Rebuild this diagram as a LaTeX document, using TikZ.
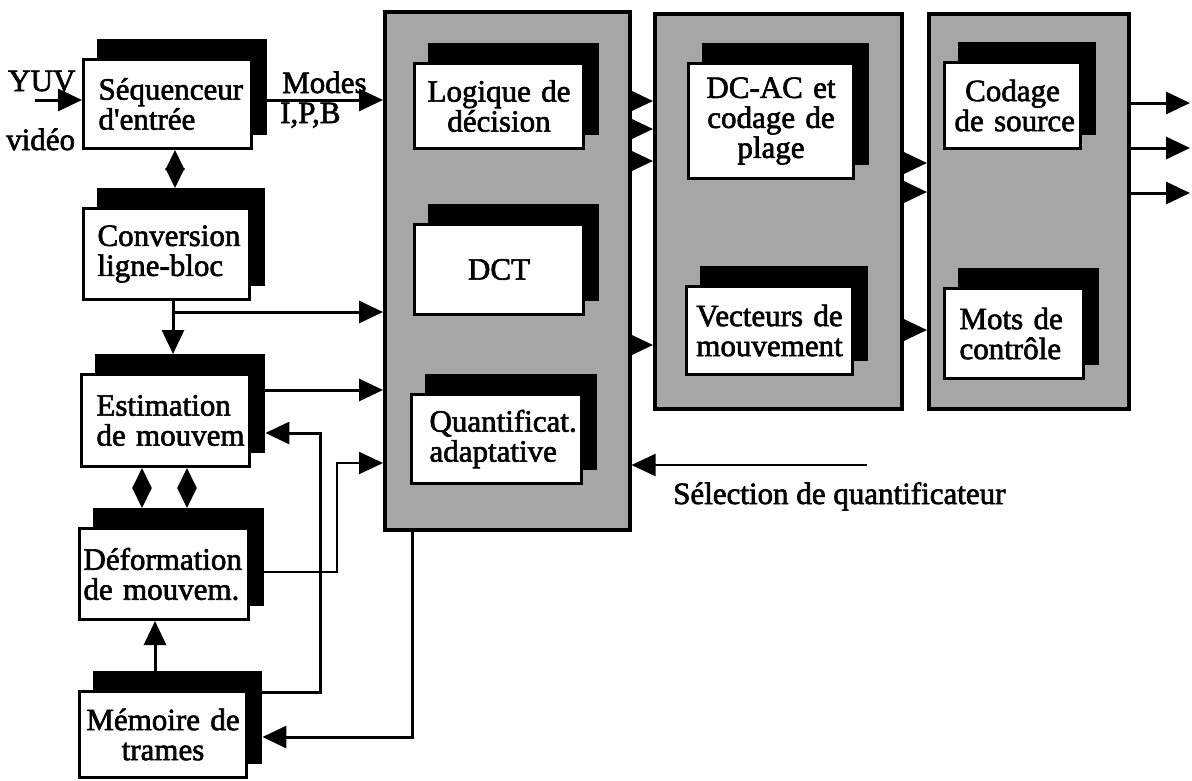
\documentclass[tikz,border=0pt]{standalone}
\usepackage{fontspec}
\setmainfont{Liberation Serif}
\newfontfamily\scanfont{Liberation Serif}[FakeBold=2]
\usetikzlibrary{arrows.meta,calc}
\hyphenpenalty=10000
\exhyphenpenalty=10000

\tikzset{
  txtfont/.style={font=\scanfont\fontsize{31}{30}\selectfont},
  lbl/.style={txtfont, inner sep=0pt},
  panel/.style={draw=black, line width=3.5pt, fill=black!35, inner sep=0pt, anchor=north west},
  shad/.style={fill=black, inner sep=0pt, anchor=north west},
  blkst/.style={draw=black, line width=3pt, fill=white, inner ysep=0pt, anchor=north west, txtfont},
  arr/.style={line width=3pt, -{Triangle[length=24pt,width=22pt]}},
  tarr/.style={line width=2pt, -{Triangle[length=24pt,width=22pt]}},
  dia/.style={line width=2pt, {Triangle[length=20pt,width=19pt]}-{Triangle[length=20pt,width=19pt]}},
}

% name, x1, y1, x2, y2, inner xsep, align, text
\newcommand\myblock[8]{%
  \pgfmathsetmacro\mbw{#4-#2}%
  \pgfmathsetmacro\mbh{#5-#3}%
  \pgfmathsetmacro\mbsw{#4-#2+2}%
  \pgfmathsetmacro\mbsh{#5-#3+7}%
  \pgfmathsetmacro\mbtw{#4-#2-2*#6}%
  \node[shad, minimum width=\mbsw pt, minimum height=\mbsh pt] (#1s) at (#2+15,#3-19) {};
  \node[blkst, minimum width=\mbw pt, minimum height=\mbh pt, inner xsep=#6pt, text width=\mbtw pt, align=#7] (#1) at (#2,#3) {#8};
}

\begin{document}
\begin{tikzpicture}[x=1pt,y=-1pt]
\useasboundingbox (0,0) rectangle (1192,780);
\fill[white] (0,0) rectangle (1192,780);

% panels
\node[panel, minimum width=245pt, minimum height=518pt] (p1) at (383,10) {};
\node[panel, minimum width=247pt, minimum height=395pt] (p2) at (653,12) {};
\node[panel, minimum width=200pt, minimum height=395pt] (p3) at (927,12) {};

% blocks
\myblock{seq}{82}{58}{250}{147}{15}{left}{Séquenceur\\d'entrée}
\myblock{conv}{82}{207}{248}{298}{14}{left}{Conversion\\ligne-bloc}
\myblock{est}{80}{373}{248}{465}{15}{left}{Estimation\\de~mouvem}
\myblock{def}{78}{527}{247}{618}{4}{left}{Déformation\\de~mouvem.}
\myblock{mem}{78}{690}{245}{776}{4}{center}{Mémoire~de\\trames}
\myblock{log}{413}{62}{582}{147}{10}{center}{Logique~de\\décision}
\myblock{dct}{413}{223}{582}{313}{10}{center}{DCT}
\myblock{qua}{410}{393}{580}{482}{18}{left}{Quantificat.\\adaptative}
\myblock{dcac}{687}{62}{852}{177}{10}{center}{DC-AC~et\\codage~de\\plage}
\myblock{vec}{685}{285}{851}{373}{8}{center}{Vecteurs~de\\mouvement}
\myblock{cod}{943}{61}{1079}{147}{10}{center}{Codage\\de~source}
\myblock{mot}{943}{287}{1082}{377}{15}{left}{Mots~de\\contrôle}

% helper coordinates
\coordinate (yuvin) at (35,100);
\coordinate (x173) at (173,0);
\coordinate (x175) at (175,0);
\coordinate (x142) at (142,0);
\coordinate (x187) at (187,0);
\coordinate (x155) at (155,0);
\coordinate (j1) at (173,312);
\coordinate (y390) at (0,390);
\coordinate (y433) at (0,433);
\coordinate (x320) at (320,0);
\coordinate (y692) at (0,692);
\coordinate (y572) at (0,572);
\coordinate (x337) at (337,0);
\coordinate (y463) at (0,463);
\coordinate (x412) at (412,0);
\coordinate (y737) at (0,737);
\coordinate (selin) at (867,465);

% input
\draw[arr] (yuvin) -- (seq.west |- yuvin);
\draw[arr] (seq.east |- yuvin) -- (p1.west |- yuvin);

% left column
\draw[dia] (seq.south -| x175) -- (convs.north -| x175);
\draw[arr] (conv.south -| x173) -- (ests.north -| x173);
\draw[arr] (j1) -- (j1 -| p1.west);
\draw[arr] (ests.east |- y390) -- (p1.west |- y390);
\draw[arr] (mems.east |- y692) -| (x320 |- y433) -- (ests.east |- y433);
\draw[dia] (est.south -| x142) -- (defs.north -| x142);
\draw[dia] (est.south -| x187) -- (defs.north -| x187);
\draw[tarr] (defs.east |- y572) -| (x337 |- y463) -- (p1.west |- y463);
\draw[arr] (mems.north -| x155) -- (def.south -| x155);
\draw[arr] (p1.south -| x412) |- (mems.east |- y737);

% quantizer selection
\draw[tarr] (selin) -- (selin -| p1.east);

% panel to panel
\foreach \yy in {101,129,161,345}{
  \coordinate (tmp) at (0,\yy);
  \draw[arr] (p1.east |- tmp) -- (p2.west |- tmp);
}
\foreach \yy in {163,192,330}{
  \coordinate (tmp) at (0,\yy);
  \draw[arr] (p2.east |- tmp) -- (p3.west |- tmp);
}
\foreach \yy [count=\i] in {103,148,193}{
  \coordinate (out\i) at (1190,\yy);
  \draw[arr] (p3.east |- out\i) -- (out\i);
}

% labels
\node[lbl, anchor=base west] (yuv) at (8,91) {YUV};
\node[lbl, anchor=base west] (video) at (6,150) {vidéo};
\node[lbl, anchor=base west] (modes) at (282,93) {Modes};
\node[lbl, anchor=base west] (ipb) at (280,123) {I,P,B};
\node[lbl, anchor=base west] (seltxt) at (673,504) {Sélection de quantificateur};
\end{tikzpicture}
\end{document}
